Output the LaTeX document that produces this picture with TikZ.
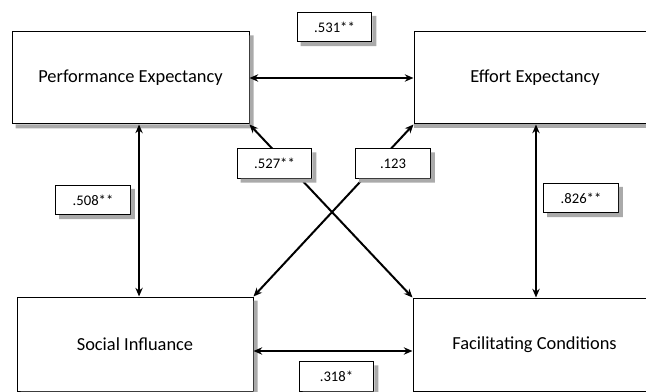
\documentclass[tikz,border=0pt]{standalone}
\usepackage{fontspec}
\setmainfont{Carlito}
\usetikzlibrary{arrows.meta}
\definecolor{shadegray}{RGB}{170,170,170}

\begin{document}
\begin{tikzpicture}[
    x=0.75pt, y=-0.75pt,
    factor/.style={rectangle, draw, line width=0.75pt, fill=white, inner sep=0pt,
                   font=\fontsize{13.8}{16}\selectfont, align=center},
    coef/.style={rectangle, draw, line width=0.75pt, fill=white, inner sep=0pt,
                 minimum width=56pt, minimum height=22pt, font=\fontsize{11}{13}\selectfont},
    corr/.style={{Stealth[length=6.5pt, width=5.5pt]}-{Stealth[length=6.5pt, width=5.5pt]}, line width=1.5pt},
    shade/.style={fill=shadegray}
]
    \useasboundingbox (0,0) rectangle (646,392);
    \node[factor, minimum width=177.75pt, minimum height=69pt] (pe) at (130.5,78) {Performance Expectancy};
    \node[factor, minimum width=181.5pt, minimum height=69pt] (ee) at (535,78) {Effort Expectancy};
    \node[factor, minimum width=177pt, minimum height=70.5pt] (si) at (135,344) {Social Influance};
    \node[factor, minimum width=182.25pt, minimum height=69.75pt] (fc) at (534.5,344.5) {Facilitating Conditions};
    % shadows
    \foreach \n in {pe,si}
      \fill[shade] ([yshift=-3pt]\n.north east) -- ([xshift=3pt,yshift=-3pt]\n.north east)
        -- ([xshift=3pt,yshift=-3pt]\n.south east) -- ([xshift=3pt,yshift=-3pt]\n.south west)
        -- ([xshift=3pt]\n.south west) -- (\n.south east) -- cycle;
    \foreach \n in {ee,fc}
      \fill[shade] (\n.south west) rectangle ([yshift=-3pt]\n.south east);
    % correlations
    \draw[corr] (pe.east) -- (ee.west);
    \draw[corr] ([xshift=6.4pt]pe.south) -- ([xshift=6.4pt]pe.south |- si.north);
    \draw[corr] ([xshift=0.75pt]ee.south) -- ([xshift=0.75pt]ee.south |- fc.north);
    \draw[corr] (pe.south east) -- (fc.north west);
    \draw[corr] (ee.south west) -- (si.north east);
    \draw[corr] ([yshift=-5.25pt]si.east) -- ([yshift=-5.25pt]si.east -| fc.west);
    % coefficients
    \node[coef] (r531) at (334.5,27) {.531**};
    \node[coef] (r527) at (274.5,163.5) {.527**};
    \node[coef] (r123) at (393,163.5) {.123};
    \node[coef] (r508) at (93,200) {.508**};
    \node[coef] (r826) at (581,198) {.826**};
    \node[coef] (r318) at (336.5,376.5) {.318*};
    \foreach \n in {r531,r527,r123,r508,r826,r318}
      \fill[shade] ([yshift=-3pt]\n.north east) -- ([xshift=3pt,yshift=-3pt]\n.north east)
        -- ([xshift=3pt,yshift=-3pt]\n.south east) -- ([xshift=3pt,yshift=-3pt]\n.south west)
        -- ([xshift=3pt]\n.south west) -- (\n.south east) -- cycle;
\end{tikzpicture}
\end{document}
